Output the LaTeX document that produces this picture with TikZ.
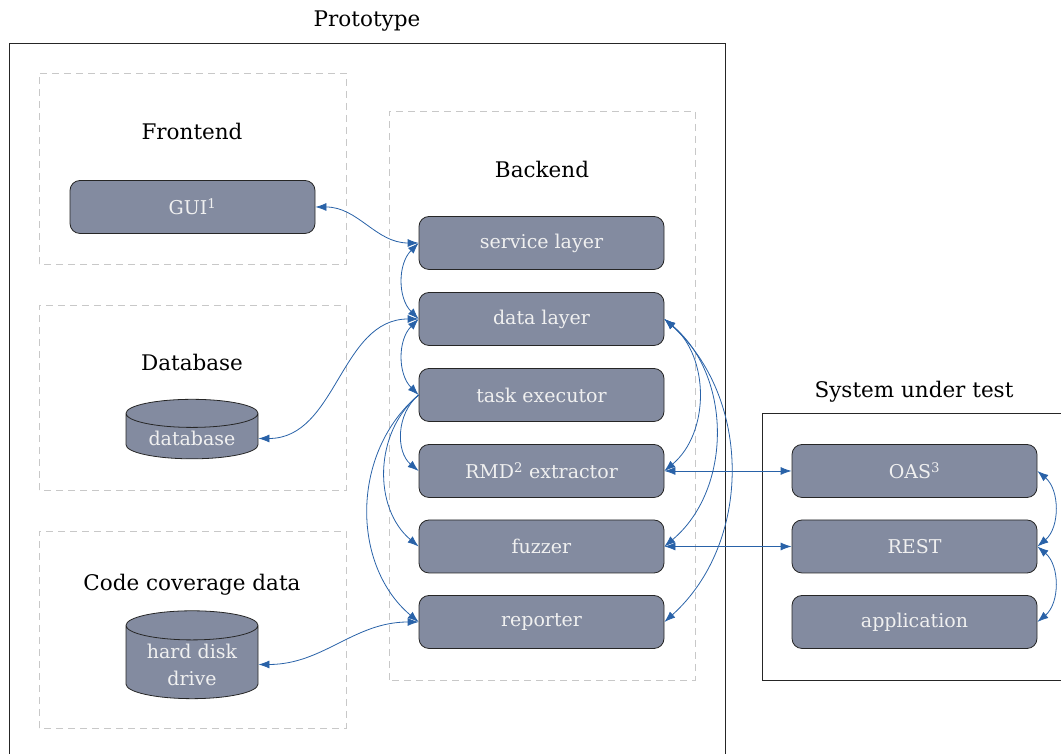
\documentclass[tikz,border=0pt]{standalone}
\usepackage{fontspec}
\setmainfont{DejaVu Serif}
\usetikzlibrary{shapes.geometric,arrows.meta}

\definecolor{boxgray}{RGB}{131,139,160}
\definecolor{linkblue}{RGB}{41,98,168}
\definecolor{dashgray}{RGB}{200,200,200}

\begin{document}
\begin{tikzpicture}[x=1pt,y=1pt]

    % Define some common styles
    \tikzset{
        block/.style={draw=black!85, line width=0.8pt, fill=boxgray, rounded corners=10pt, minimum width=245pt, minimum height=53pt, text=white!94!black, font=\fontsize{19}{22}\selectfont},
        store/.style={cylinder, shape border rotate=90, aspect=0.3, draw=black!85, line width=0.8pt, fill=boxgray, minimum width=132pt, text=white!94!black, align=center, font=\fontsize{19}{27}\selectfont},
        group/.style={draw=dashgray, line width=0.8pt, dash pattern=on 7pt off 5pt},
        frame/.style={draw=black!85, line width=0.8pt},
        title/.style={font=\fontsize{21.5}{25}\selectfont},
        link/.style={linkblue, line width=0.8pt, {Latex[length=11pt,width=8pt]}-{Latex[length=11pt,width=8pt]}},
        flow/.style={linkblue, line width=0.8pt, -{Latex[length=11pt,width=8pt]}}
    }

    \useasboundingbox (0,0) rectangle (1061,754);

    % Draw the outer frames
    \draw[frame] (9,-10) rectangle (725,711);
    \node[title] (prototitle) at (367,733) {Prototype};
    \draw[frame] (762,74) rectangle (1075,341);
    \node[title] (suttitle) at (914,362) {System under test};

    % Draw the dashed groups
    \draw[group] (39,490) rectangle (346,681);
    \draw[group] (39,264) rectangle (346,449);
    \draw[group] (39,26) rectangle (346,223);
    \draw[group] (389,74) rectangle (695,643);
    \node[title] (fronttitle) at (192,623) {Frontend};
    \node[title] (dbtitle) at (192,392) {Database};
    \node[title] (covtitle) at (192,169) {Code coverage data};
    \node[title] (backtitle) at (542,585) {Backend};

    % Frontend and storage
    \node[block] (gui) at (192.5,547) {GUI\textsuperscript{1}};
    \node[store, minimum height=56pt] (db) at (192,315.5) {database};
    \node[store, minimum height=86pt] (hdd) at (192,89.5) {hard disk\\drive};

    % Backend stack
    \node[block] (service) at (541.5,511) {service layer};
    \node[block] (data) at (541.5,435) {data layer};
    \node[block] (task) at (541.5,359) {task executor};
    \node[block] (rmd) at (541.5,283) {RMD\textsuperscript{2} extractor};
    \node[block] (fuzzer) at (541.5,207.5) {fuzzer};
    \node[block] (reporter) at (541.5,132) {reporter};

    % System under test stack
    \node[block] (oas) at (914.5,283) {OAS\textsuperscript{3}};
    \node[block] (rest) at (914.5,207.5) {REST};
    \node[block] (app) at (914.5,132) {application};

    % Links on the left
    \draw[link] (gui.east) to[out=0,in=180] (service.west);
    \draw[link] (db.east) to[out=0,in=180] (data.west);
    \draw[link] (hdd.east) to[out=0,in=180] (reporter.west);
    \draw[link] (service.west) to[bend right=45] (data.west);
    \draw[link] (data.west) to[bend right=45] (task.west);
    \draw[flow] (task.west) to[bend right=50] (rmd.west);
    \draw[flow] (task.west) to[bend right=50] (fuzzer.west);
    \draw[flow] (task.west) to[bend right=50] (reporter.west);

    % Links on the right
    \draw[link] (data.east) to[bend left=50] (rmd.east);
    \draw[link] (data.east) to[bend left=50] (fuzzer.east);
    \draw[link] (data.east) to[bend left=48] (reporter.east);
    \draw[link] (rmd.east) -- (oas.west);
    \draw[link] (fuzzer.east) -- (rest.west);
    \draw[link] (oas.east) to[bend left=50] (rest.east);
    \draw[link] (rest.east) to[bend left=50] (app.east);

\end{tikzpicture}
\end{document}
